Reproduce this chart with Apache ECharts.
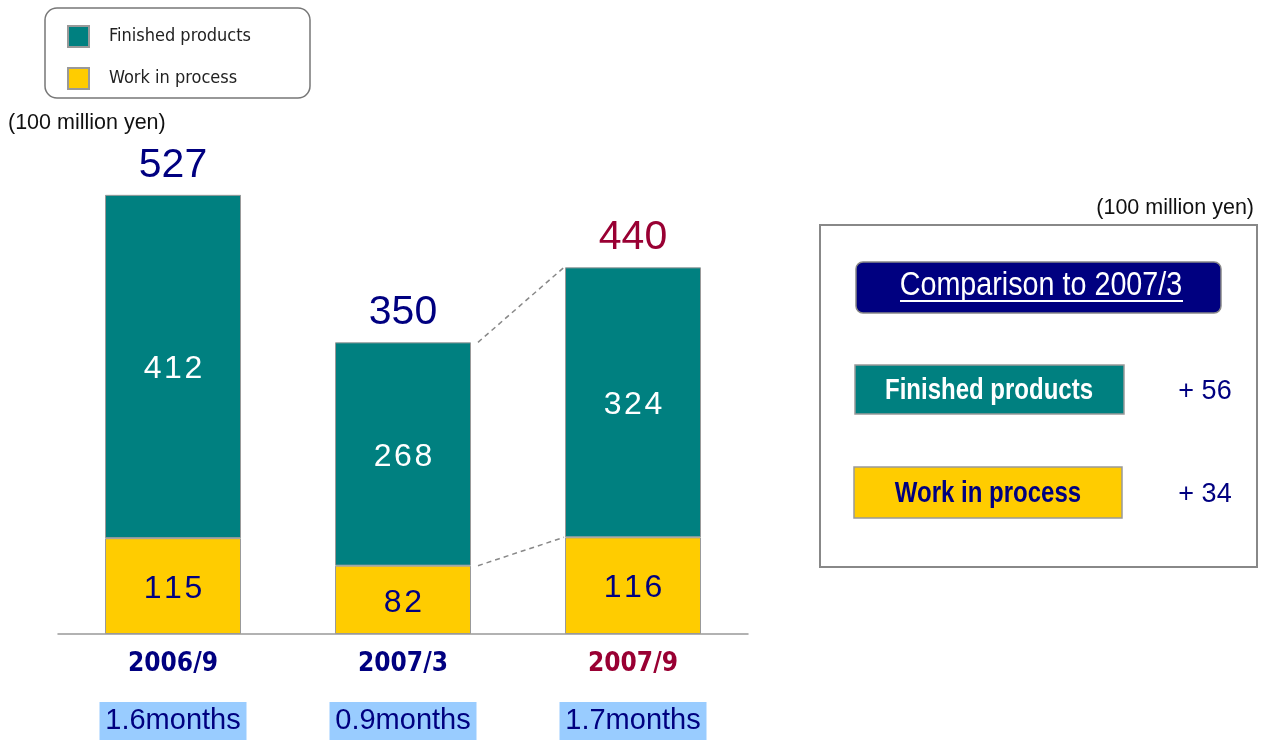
<!DOCTYPE html>
<html>
<head>
<meta charset="utf-8">
<script src="https://cdn.jsdelivr.net/npm/echarts@6/dist/echarts.min.js"></script>
<style>
  html, body { margin: 0; padding: 0; background: #fff; }
  #main { width: 1263px; height: 740px; }
</style>
</head>
<body>
<div id="main"></div>
<script>
var chart = echarts.init(document.getElementById('main'));

// values in 100 million yen
var periods = ['2006/9', '2007/3', '2007/9'];
var finished = [412, 268, 324];
var wip = [115, 82, 116];
var totals = [527, 350, 440];
var months = ['1.6months', '0.9months', '1.7months'];

var NAVY = '#000080';
var RED = '#990033';
var TEAL = '#008080';
var YELLOW = '#FFCC00';
var NARROW = "'Liberation Sans Narrow', 'DejaVu Sans Condensed', sans-serif";
var ARIAL = "'Liberation Sans', Arial, sans-serif";

var totalColors = [NAVY, NAVY, RED];

// digits in the bars are slightly spaced out
function spaced(p) {
  return String(p.value).split('').join('\u200A');
}

var option = {
  animation: false,
  backgroundColor: '#fff',
  legend: {
    data: ['Finished products', 'Work in process'],
    orient: 'vertical',
    left: 62,
    top: 20,
    itemWidth: 21,
    itemHeight: 21,
    itemGap: 19,
    icon: 'rect',
    textStyle: { fontFamily: NARROW, fontSize: 18, color: '#222', padding: [0, 0, 0, 15] }
  },
  grid: { left: 58, right: 515, top: 134, bottom: 105 },
  xAxis: {
    type: 'category',
    data: periods,
    axisLine: { lineStyle: { color: '#999', width: 1.5 } },
    axisTick: { show: false },
    axisLabel: {
      margin: 15,
      formatter: function (v, i) {
        var s = i === 2 ? 'r' : 'n';
        return '{' + s + '|' + v + '}\n{g| }\n{m|' + months[i] + '}';
      },
      rich: {
        n: { fontFamily: NARROW, fontWeight: 'bold', fontSize: 26, color: NAVY, lineHeight: 30 },
        r: { fontFamily: NARROW, fontWeight: 'bold', fontSize: 26, color: RED, lineHeight: 30 },
        g: { fontSize: 10, lineHeight: 23 },
        m: { fontFamily: ARIAL, fontSize: 29, color: NAVY, backgroundColor: '#99CCFF',
             width: 147, height: 38, lineHeight: 38, align: 'center' }
      }
    }
  },
  yAxis: {
    type: 'value',
    min: 0,
    max: 600,
    show: false,
    splitLine: { show: false }
  },
  series: [
    {
      name: 'Work in process',
      type: 'bar',
      stack: 'inv',
      barWidth: 136,
      data: wip,
      itemStyle: { color: YELLOW, borderColor: '#999', borderWidth: 1 },
      label: { show: true, position: 'inside', offset: [0, 3], fontFamily: ARIAL, fontSize: 32, color: NAVY, formatter: spaced }
    },
    {
      name: 'Finished products',
      type: 'bar',
      stack: 'inv',
      barWidth: 136,
      data: finished,
      itemStyle: { color: TEAL, borderColor: '#999', borderWidth: 1 },
      label: { show: true, position: 'inside', offset: [0, 3], fontFamily: ARIAL, fontSize: 32, color: '#fff', formatter: spaced }
    },
    {
      name: 'Total',
      type: 'bar',
      stack: 'inv',
      barWidth: 136,
      data: totals.map(function (t, i) {
        return { value: 0, label: { color: totalColors[i] } };
      }),
      itemStyle: { color: 'transparent' },
      label: {
        show: true,
        position: 'top',
        distance: 9,
        fontFamily: ARIAL,
        fontSize: 41,
        formatter: function (p) { return totals[p.dataIndex]; }
      }
    }
  ]
};

chart.setOption(option);

// dashed connectors between 2007/3 and 2007/9 bars
var half = 68;
var a1 = chart.convertToPixel({ xAxisIndex: 0, yAxisIndex: 0 }, [1, totals[1]]);
var b1 = chart.convertToPixel({ xAxisIndex: 0, yAxisIndex: 0 }, [2, totals[2]]);
var a2 = chart.convertToPixel({ xAxisIndex: 0, yAxisIndex: 0 }, [1, wip[1]]);
var b2 = chart.convertToPixel({ xAxisIndex: 0, yAxisIndex: 0 }, [2, wip[2]]);
var dash = { stroke: '#888', lineWidth: 1.5, lineDash: [5, 4] };

var diffFin = finished[2] - finished[1];
var diffWip = wip[2] - wip[1];

// narrow-looking text for the comparison panel
function narrowText(x, y, text, size, color, weight, sx) {
  return {
    type: 'text', x: x, y: y, scaleX: sx,
    style: { text: text, fontFamily: ARIAL, fontSize: size, fontWeight: weight || 'normal', fill: color,
             align: 'center', verticalAlign: 'middle' }
  };
}

chart.setOption({
  graphic: [
    { type: 'rect', shape: { x: 45, y: 8, width: 265, height: 90, r: 12 },
      style: { fill: 'none', stroke: '#777', lineWidth: 1.5 }, z: -1 },
    { type: 'text', left: 8, top: 112,
      style: { text: '(100 million yen)', fontFamily: ARIAL, fontSize: 21.5, fill: '#111' } },
    { type: 'line', shape: { x1: a1[0] + half + 7, y1: a1[1], x2: b1[0] - half - 1, y2: b1[1] }, style: dash },
    { type: 'line', shape: { x1: a2[0] + half + 7, y1: a2[1], x2: b2[0] - half - 1, y2: b2[1] }, style: dash },

    // right panel
    { type: 'text', right: 9, top: 197,
      style: { text: '(100 million yen)', fontFamily: ARIAL, fontSize: 21.5, fill: '#111' } },
    { type: 'rect', shape: { x: 820, y: 225, width: 437, height: 342 },
      style: { fill: 'none', stroke: '#888', lineWidth: 2 } },
    { type: 'rect', shape: { x: 856, y: 262, width: 365, height: 51, r: 7 },
      style: { fill: NAVY, stroke: '#888', lineWidth: 1.5 } },
    narrowText(1041, 286, 'Comparison to 2007/3', 33, '#fff', 'normal', 0.87),
    { type: 'line', shape: { x1: 900, y1: 301, x2: 1183, y2: 301 },
      style: { stroke: '#fff', lineWidth: 2 } },
    { type: 'rect', shape: { x: 855, y: 365, width: 269, height: 49 },
      style: { fill: TEAL, stroke: '#999', lineWidth: 1.5 } },
    narrowText(989, 391, 'Finished products', 30, '#fff', 'bold', 0.8),
    { type: 'rect', shape: { x: 854, y: 467, width: 268, height: 51 },
      style: { fill: YELLOW, stroke: '#999', lineWidth: 1.5 } },
    narrowText(988, 494, 'Work in process', 30, NAVY, 'bold', 0.8),
    { type: 'text', x: 1205, y: 392,
      style: { text: '+ ' + diffFin, fontFamily: ARIAL, fontSize: 27, fill: NAVY,
               align: 'center', verticalAlign: 'middle' } },
    { type: 'text', x: 1205, y: 495,
      style: { text: '+ ' + diffWip, fontFamily: ARIAL, fontSize: 27, fill: NAVY,
               align: 'center', verticalAlign: 'middle' } }
  ]
});

window.addEventListener('resize', function () {
  chart.resize();
});
</script>
</body>
</html>
